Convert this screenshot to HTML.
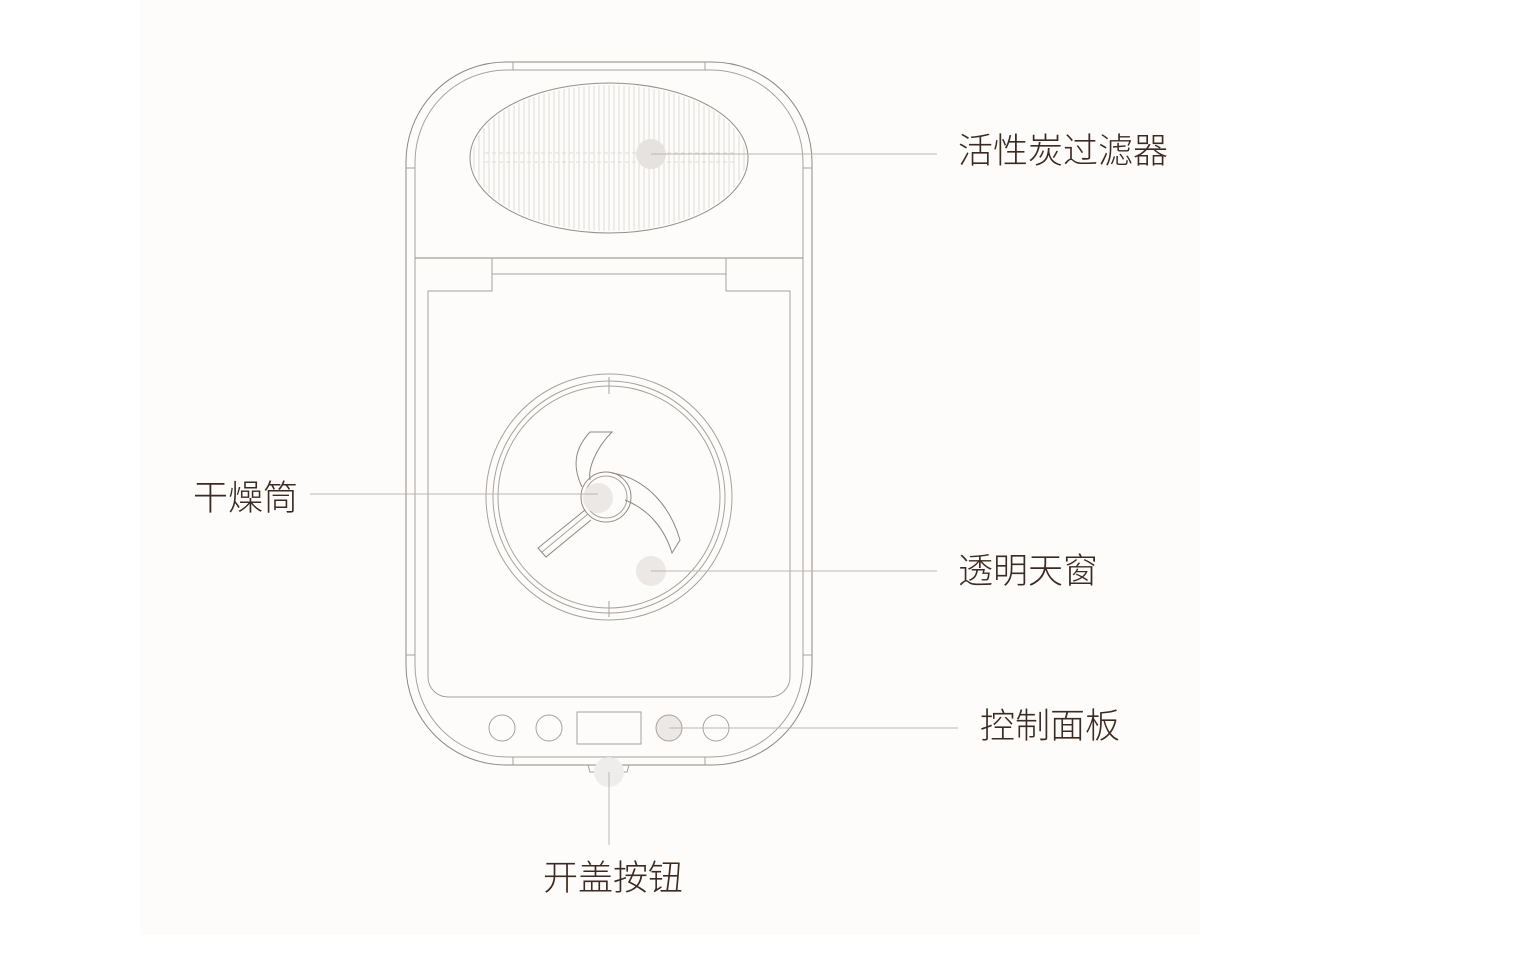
<!DOCTYPE html>
<html><head><meta charset="utf-8"><style>
html,body{margin:0;padding:0;background:#fff;}
body{width:1518px;height:962px;position:relative;overflow:hidden;font-family:"Liberation Sans","Noto Sans CJK SC",sans-serif;}
.bg{position:absolute;left:140px;top:0;width:1060px;height:935px;background:#fdfcfa;}
.lbl{position:absolute;font-size:35px;color:#3b2a22;line-height:40px;white-space:nowrap;font-family:"Noto Sans CJK SC",sans-serif;font-weight:300;}
svg{position:absolute;left:0;top:0;}
</style></head><body>
<div class="bg"></div>
<svg width="1518" height="962" viewBox="0 0 1518 962" fill="none" stroke="#a8a19c" stroke-width="1">
<defs>
<clipPath id="ec"><ellipse cx="609" cy="158" rx="137" ry="73"/></clipPath>
</defs>
<path d="M406 168 L406 162 A100 100 0 0 1 506 62 L712 62 A100 100 0 0 1 812 162 L812 665 A100 100 0 0 1 712 765 L506 765 A100 100 0 0 1 406 665 Z" stroke="#8f8883"/>
<path d="M415 168 L415 162 A92 92 0 0 1 507 70 L711 70 A92 92 0 0 1 803 162 L803 665 A92 92 0 0 1 711 757 L507 757 A92 92 0 0 1 415 665 Z"/>
<line x1="513" y1="62" x2="513" y2="70"/><line x1="705" y1="62" x2="705" y2="70"/>
<line x1="513" y1="757" x2="513" y2="765"/><line x1="705" y1="757" x2="705" y2="765"/>
<line x1="406" y1="168" x2="415" y2="168"/><line x1="803" y1="168" x2="812" y2="168"/>
<line x1="406" y1="655" x2="415" y2="655"/><line x1="803" y1="655" x2="812" y2="655"/>
<g clip-path="url(#ec)" stroke="#d8d3cf" stroke-width="0.8">
<path d="M474 80V240M479 80V240M484 80V240M489 80V240M494 80V240M499 80V240M504 80V240M509 80V240M514 80V240M519 80V240M524 80V240M529 80V240M534 80V240M539 80V240M544 80V240M549 80V240M554 80V240M559 80V240M564 80V240M569 80V240M574 80V240M579 80V240M584 80V240M589 80V240M594 80V240M599 80V240M604 80V240M609 80V240M614 80V240M619 80V240M624 80V240M629 80V240M634 80V240M639 80V240M644 80V240M649 80V240M654 80V240M659 80V240M664 80V240M669 80V240M674 80V240M679 80V240M684 80V240M689 80V240M694 80V240M699 80V240M704 80V240M709 80V240M714 80V240M719 80V240M724 80V240M729 80V240M734 80V240M739 80V240M744 80V240"/>
</g>
<ellipse cx="609" cy="158" rx="139" ry="75" stroke="#968e89"/>
<line x1="485" y1="153" x2="735" y2="153" stroke="#e0dbd7" stroke-dasharray="4 3"/>
<line x1="485" y1="162" x2="735" y2="162" stroke="#e0dbd7" stroke-dasharray="4 3"/>
<line x1="415" y1="258" x2="803" y2="258" stroke="#8f8883"/>
<path d="M492 258 V291 H428 V677 A20 20 0 0 0 448 697 H770 A20 20 0 0 0 790 677 V291 H726 V258"/>
<line x1="492" y1="274" x2="726" y2="274"/>
<circle cx="609" cy="497" r="123"/>
<circle cx="609" cy="497" r="116"/>
<circle cx="609" cy="497" r="111"/>
<line x1="609" y1="377" x2="609" y2="394"/>
<line x1="609" y1="601" x2="609" y2="617"/>
<circle cx="606" cy="497" r="25" stroke="#8f8883"/>
<circle cx="606" cy="497" r="21"/>
<path d="M582 487 C570 462 578 445 590 432 L612 432 C596 448 588 468 590 480" stroke="#8f8883"/>
<path d="M612 473 C645 478 670 505 680 540 L672 553 C665 530 650 510 625 500" stroke="#8f8883"/>
<path d="M585 510 L538 548 L546 557 L591 520" stroke="#8f8883"/>
<path d="M588 514 L542 552"/>
<circle cx="502" cy="728" r="13"/>
<circle cx="549" cy="728" r="13"/>
<rect x="577" y="712" width="64" height="32"/>
<circle cx="669" cy="728" r="13" fill="#ebe8e5"/>
<circle cx="716" cy="728" r="13"/>
<path d="M588 765 L590 772 H627 L629 765"/>
<circle cx="609" cy="772" r="15" fill="#efedeb" stroke="none"/>
<circle cx="651" cy="154" r="15" fill="#e5e2df" stroke="none"/>
<circle cx="598" cy="498" r="15" fill="#ebe8e5" stroke="none"/>
<circle cx="651" cy="571" r="15" fill="#ebe8e5" stroke="none"/>
<g stroke="#bcb6b1">
<line x1="651" y1="154" x2="937" y2="154"/>
<line x1="310" y1="494" x2="598" y2="494"/>
<line x1="651" y1="571" x2="937" y2="571"/>
<line x1="669" y1="728" x2="958" y2="728"/>
<line x1="609" y1="772" x2="609" y2="845"/>
</g>
</svg>
<div class="lbl" style="left:958px;top:129px;">活性炭过滤器</div>
<div class="lbl" style="left:193px;top:476px;">干燥筒</div>
<div class="lbl" style="left:958px;top:549px;">透明天窗</div>
<div class="lbl" style="left:980px;top:704px;">控制面板</div>
<div class="lbl" style="left:543px;top:856px;">开盖按钮</div>
</body></html>
